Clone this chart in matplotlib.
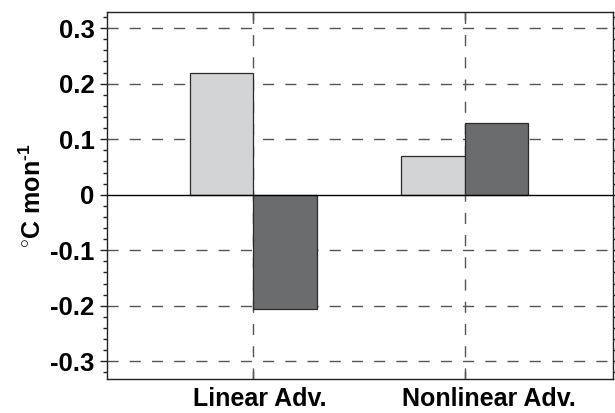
import matplotlib
matplotlib.use("Agg")
import matplotlib.pyplot as plt
import numpy as np
from matplotlib.ticker import MultipleLocator
from matplotlib.transforms import ScaledTranslation

categories = ["Linear Adv.", "Nonlinear Adv."]
series_a = [0.22, 0.07]
series_b = [-0.205, 0.13]
ytick_values = [-0.3, -0.2, -0.1, 0, 0.1, 0.2, 0.3]
ytick_labels = ["-0.3", "-0.2", "-0.1", "0", "0.1", "0.2", "0.3"]

plt.rcParams['font.family'] = ['Liberation Sans', 'DejaVu Sans']
plt.rcParams['font.weight'] = 'bold'
plt.rcParams['mathtext.default'] = 'bf'
plt.rcParams['mathtext.fontset'] = 'custom'
plt.rcParams['mathtext.bf'] = 'Liberation Sans:bold'
plt.rcParams['mathtext.rm'] = 'Liberation Sans:bold'

fig = plt.figure(figsize=(6.15, 4.13), dpi=100)
ax = fig.add_axes([0.174, 0.082, 0.8227, 0.889])

x = np.arange(len(categories))
w = 0.3
ax.bar(x - w / 2, series_a, w, color="#d3d4d6", edgecolor="#2a2a2a", linewidth=0.9, zorder=3)
ax.bar(x + w / 2, series_b, w, color="#6b6c6e", edgecolor="#2a2a2a", linewidth=0.9, zorder=3)

# dashed grid at major ticks, solid zero line
for v in ytick_values:
    if v == 0:
        ax.axhline(0, color="black", linewidth=1.0, zorder=4)
    else:
        ax.axhline(v, color="#555555", linewidth=1.0, dashes=(8, 8), zorder=1)
for xi in x:
    ax.axvline(xi, color="#555555", linewidth=1.0, dashes=(8, 8), zorder=2)

ax.set_xlim(-0.69, 1.70)
ax.set_ylim(-0.332, 0.329)
ax.set_xticks(x)
ax.set_xticklabels([])
ax.set_yticks(ytick_values)
ax.set_yticklabels(ytick_labels, fontsize=18.5, fontweight="bold")
ax.yaxis.set_minor_locator(MultipleLocator(0.02))

# category labels, set a little to the right of their ticks
for xi, name, dx in zip(x, categories, [7, 24]):
    off = ScaledTranslation(dx / 100, -0.08, fig.dpi_scale_trans)
    ax.text(xi, 0, name, transform=ax.get_xaxis_transform() + off,
            ha="center", va="top", fontsize=18, fontweight="bold")

ax.tick_params(axis="y", which="both", direction="out", left=True, right=True,
               width=1, color="#222222")
ax.tick_params(axis="y", which="major", length=5, pad=4)
ax.tick_params(axis="y", which="minor", length=3)
ax.tick_params(axis="x", which="major", direction="in", top=True, bottom=True,
               length=6, width=1, color="#333333")
for s in ax.spines.values():
    s.set_linewidth(1.0)
    s.set_color("#222222")

ax.set_ylabel(r"$^{\circ}$C mon$^{\text{-1}}$", fontsize=18, fontweight="bold", labelpad=3)

fig.savefig("out.png", dpi=100)
